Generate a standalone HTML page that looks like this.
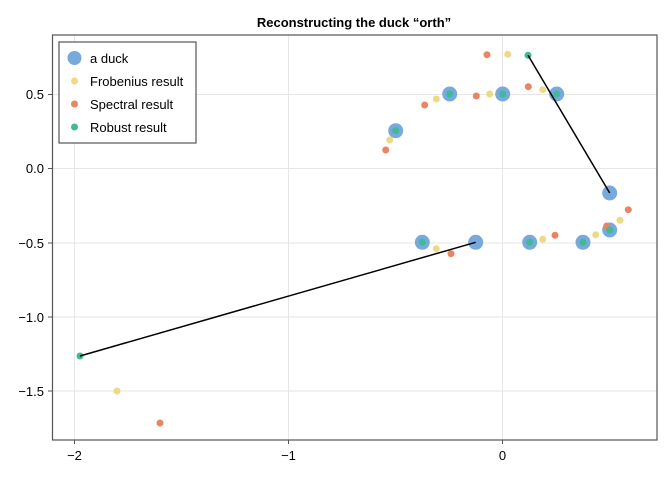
<!DOCTYPE html>
<html><head><meta charset="utf-8"><style>body{margin:0;background:#fff}svg{display:block}text{font-family:"Liberation Sans",sans-serif}</style></head><body>
<svg width="672" height="480" xmlns="http://www.w3.org/2000/svg">
<rect width="672" height="480" fill="#fff"/>
<g stroke="#e6e6e6" stroke-width="1">
<line x1="74.5" y1="35" x2="74.5" y2="440"/><line x1="288.5" y1="35" x2="288.5" y2="440"/><line x1="502.5" y1="35" x2="502.5" y2="440"/>
<line x1="53" y1="94.5" x2="657" y2="94.5"/><line x1="53" y1="168.5" x2="657" y2="168.5"/><line x1="53" y1="243" x2="657" y2="243"/><line x1="53" y1="317" x2="657" y2="317"/><line x1="53" y1="391" x2="657" y2="391"/>
</g>
<rect x="52.5" y="35" width="604.5" height="405" fill="none" stroke="#555" stroke-width="1.2"/>
<g stroke="#555"><line x1="74.5" y1="440" x2="74.5" y2="444"/><line x1="288.5" y1="440" x2="288.5" y2="444"/><line x1="502.5" y1="440" x2="502.5" y2="444"/>
<line x1="48" y1="94.5" x2="52.5" y2="94.5"/><line x1="48" y1="168.5" x2="52.5" y2="168.5"/><line x1="48" y1="243" x2="52.5" y2="243"/><line x1="48" y1="317" x2="52.5" y2="317"/><line x1="48" y1="391" x2="52.5" y2="391"/></g>
<g font-size="13" fill="#000" text-anchor="middle"><text x="74.5" y="460">−2</text><text x="288.5" y="460">−1</text><text x="502.5" y="460">0</text></g>
<g font-size="13" fill="#000" text-anchor="end"><text x="44" y="99">0.5</text><text x="44" y="173">0.0</text><text x="44" y="248">−0.5</text><text x="44" y="322">−1.0</text><text x="44" y="396">−1.5</text></g>
<text x="354" y="27" font-size="13" font-weight="bold" text-anchor="middle">Reconstructing the duck “orth”</text>
<g fill="#78a9dd">
<circle cx="449.7" cy="94" r="7.5"/><circle cx="502.7" cy="94" r="7.5"/><circle cx="556.7" cy="94" r="7.5"/><circle cx="395.7" cy="130.7" r="7.5"/><circle cx="609.7" cy="193" r="7.5"/><circle cx="422.3" cy="242.3" r="7.5"/><circle cx="475.7" cy="242.3" r="7.5"/><circle cx="529.7" cy="242.3" r="7.5"/><circle cx="583" cy="242.3" r="7.5"/><circle cx="609.7" cy="230" r="7.5"/>
</g>
<g fill="#eed985">
<circle cx="507.7" cy="54.3" r="3.5"/><circle cx="436.3" cy="99" r="3.5"/><circle cx="489.7" cy="94" r="3.5"/><circle cx="542.7" cy="89.7" r="3.5"/><circle cx="389.7" cy="140" r="3.5"/><circle cx="436.3" cy="248.7" r="3.5"/><circle cx="542.7" cy="239.3" r="3.5"/><circle cx="595.7" cy="234.7" r="3.5"/><circle cx="620" cy="220.3" r="3.5"/><circle cx="117" cy="391" r="3.5"/>
</g>
<g fill="#ea8563">
<circle cx="487" cy="54.7" r="3.5"/><circle cx="424.7" cy="105" r="3.5"/><circle cx="476.3" cy="96" r="3.5"/><circle cx="528.3" cy="86.7" r="3.5"/><circle cx="385.7" cy="150" r="3.5"/><circle cx="451" cy="253.7" r="3.5"/><circle cx="555" cy="235.3" r="3.5"/><circle cx="606.7" cy="226" r="3.5"/><circle cx="628.3" cy="209.7" r="3.5"/><circle cx="160" cy="423" r="3.5"/>
</g>
<g fill="#3fba95">
<circle cx="449.7" cy="94" r="3.5"/><circle cx="502.7" cy="94" r="3.5"/><circle cx="556.7" cy="94" r="3.5"/><circle cx="395.7" cy="130.7" r="3.5"/><circle cx="528" cy="55.3" r="3.5"/><circle cx="422.3" cy="242.3" r="3.5"/><circle cx="80" cy="356" r="3.5"/><circle cx="529.7" cy="242.3" r="3.5"/><circle cx="583" cy="242.3" r="3.5"/><circle cx="609.7" cy="230" r="3.5"/>
</g>
<g stroke="#000" stroke-width="1.5"><line x1="528" y1="55.3" x2="609.7" y2="193"/><line x1="80" y1="356" x2="475.7" y2="242.3"/></g>
<rect x="59" y="42" width="137" height="101" fill="#fff" stroke="#555" stroke-width="1.2"/>
<circle cx="74.5" cy="58" r="7" fill="#78a9dd"/><circle cx="74.5" cy="81" r="3.5" fill="#eed985"/><circle cx="74.5" cy="104" r="3.5" fill="#ea8563"/><circle cx="74.5" cy="127" r="3.5" fill="#3fba95"/>
<g font-size="13" fill="#000"><text x="90" y="63">a duck</text><text x="90" y="86">Frobenius result</text><text x="90" y="109">Spectral result</text><text x="90" y="132">Robust result</text></g>
</svg>
</body></html>
